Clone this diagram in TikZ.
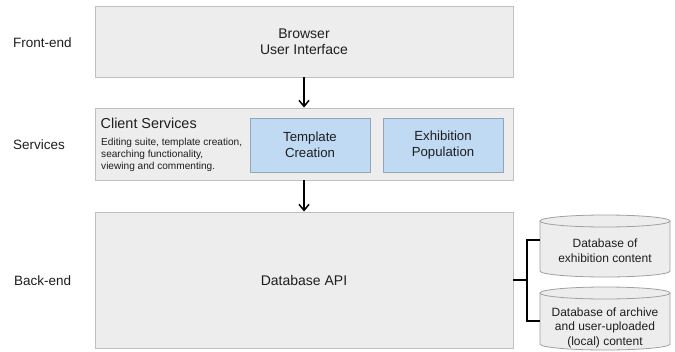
\documentclass[tikz,border=0pt]{standalone}
\usepackage{fontspec}
\setmainfont{Liberation Sans}
\usetikzlibrary{arrows.meta,calc}
\definecolor{boxfill}{RGB}{237,237,237}
\definecolor{boxline}{RGB}{192,192,192}
\definecolor{bluefill}{RGB}{191,218,242}
\definecolor{blueline}{RGB}{150,165,182}
\definecolor{cylline}{RGB}{160,160,160}
\definecolor{txt}{RGB}{30,30,30}
\tikzset{
  graybox/.style={draw=boxline, fill=boxfill, line width=0.9pt, rectangle, inner sep=0pt, text=txt, align=center, font=\fontsize{14}{16}\selectfont},
  bluebox/.style={draw=blueline, fill=bluefill, line width=0.9pt, rectangle, inner sep=0pt, text=txt, align=center, minimum width=120pt, minimum height=54pt, font=\fontsize{13.2}{16.5}\selectfont},
  layerlabel/.style={anchor=west, text=txt, inner sep=0pt, font=\fontsize{13.5}{16}\selectfont},
  cyl/.style={draw=cylline, fill=boxfill, line width=0.8pt},
  dbtext/.style={text=txt, align=center, inner sep=0pt, font=\fontsize{12}{14.5}\selectfont},
  flow/.style={line width=1.5pt, -{Straight Barb[length=6pt,width=10pt,line width=1.5pt]}},
  link/.style={line width=1.2pt, black}
}
\begin{document}
\begin{tikzpicture}[x=1pt,y=1pt]
\useasboundingbox[fill=white] (0,0) rectangle (675,-351);
% layer labels
\node[layerlabel] (lfront) at (13,-43) {Front-end};
\node[layerlabel] (lserv) at (13,-145) {Services};
\node[layerlabel] (lback) at (14,-281) {Back-end};
% main boxes
\node[graybox, minimum width=418pt, minimum height=71pt] (browser) at (304,-41.5) {Browser\\User Interface};
\node[graybox, minimum width=418pt, minimum height=72pt] (services) at (304,-144) {};
\node[graybox, minimum width=418pt, minimum height=136pt] (api) at (304,-280) {Database API};
% client services contents
\node[anchor=west, inner sep=0pt, text=txt, font=\fontsize{14.4}{16}\selectfont] (cstitle) at (100.5,-123) {Client Services};
\node[anchor=north west, inner sep=0pt, text=txt, align=left, font=\fontsize{10.1}{12}\selectfont] (csdesc) at (101,-137.5) {Editing suite, template creation,\\searching functionality,\\viewing and commenting.};
\node[bluebox] (template) at (310,-145) {Template\\Creation};
\node[bluebox] (exhibit) at (443,-145) {Exhibition\\Population};
% arrows
\draw[flow] (browser.south) -- (services.north);
\draw[flow] (services.south) -- (api.north);
% cylinders
\draw[cyl] (540,-221) -- (540,-271) arc[start angle=180,end angle=360,x radius=65,y radius=6] -- (670,-221) arc[start angle=0,end angle=180,x radius=65,y radius=6] -- cycle;
\draw[cyl] (540,-221) arc[start angle=180,end angle=360,x radius=65,y radius=6];
\draw[cyl] (540,-293) -- (540,-344) arc[start angle=180,end angle=360,x radius=65,y radius=6] -- (670,-293) arc[start angle=0,end angle=180,x radius=65,y radius=6] -- cycle;
\draw[cyl] (540,-293) arc[start angle=180,end angle=360,x radius=65,y radius=6];
\node[dbtext] (db1) at (605,-250.5) {Database of\\exhibition content};
\node[dbtext] (db2) at (605,-327.5) {Database of archive\\and user-uploaded\\(local) content};
% connectors
\coordinate (j) at (527,-280);
\coordinate (c1) at (540,-240);
\coordinate (c2) at (540,-321);
\draw[link] (api.east) -- (j);
\draw[link] (c1) -| (j) |- (c2);
\end{tikzpicture}
\end{document}
